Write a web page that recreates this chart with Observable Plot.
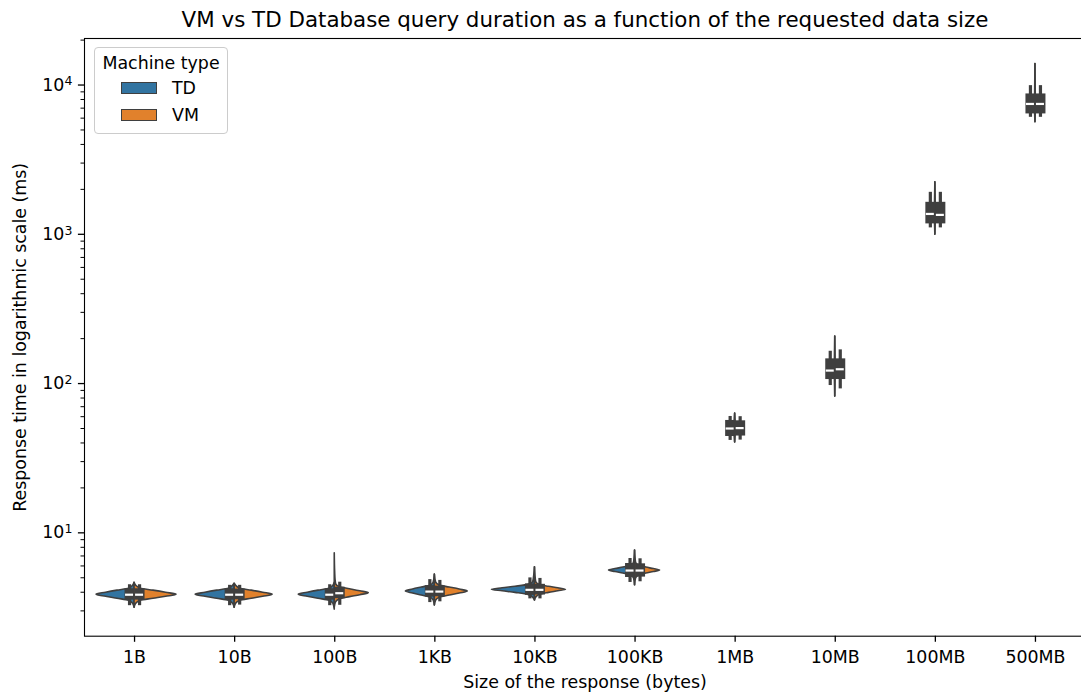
<!DOCTYPE html>
<html><head><meta charset="utf-8">
<script src="https://cdn.jsdelivr.net/npm/d3@7"></script>
<script src="https://cdn.jsdelivr.net/npm/@observablehq/plot@0.6"></script>
<style>
html,body{margin:0;padding:0;background:#fff;overflow:hidden;}
#wrap{position:relative;width:1081px;height:695px;font-family:"DejaVu Sans",sans-serif;color:#000;}
#legend{position:absolute;left:94px;top:47px;width:134px;height:87px;box-sizing:border-box;border:1px solid #cccccc;border-radius:4px;background:rgba(255,255,255,0.8);font-size:17.4px;}
#legend .lt{position:absolute;left:0;width:100%;top:3px;text-align:center;line-height:24px;}
#legend .sw{position:absolute;left:26px;width:36px;height:12px;box-sizing:border-box;border:1.5px solid #3f3f3f;}
#legend .lb{position:absolute;left:77px;line-height:20px;}
</style></head><body><div id="wrap"></div>
<script>
// ---- data ----
const categories = ["1B","10B","100B","1KB","10KB","100KB","1MB","10MB","100MB","500MB"];
const machineTypes = ["TD","VM"];
const chartTitle = "VM vs TD Database query duration as a function of the requested data size";
const xLabel = "Size of the response (bytes)";
const yLabel = "Response time in logarithmic scale (ms)";
const yMajorTicks = [10, 100, 1000, 10000];
const yMajorTickExponents = ["1","2","3","4"];
const yMinorTicks = [3,4,5,6,7,8,9,20,30,40,50,60,70,80,90,200,300,400,500,600,700,800,900,2000,3000,4000,5000,6000,7000,8000,9000,20000];

// box stats per category: [whisker low, q1, median, q3, whisker high] (ms)
const tdBox = [
  [3.25,3.54,3.85,4.22,4.49],
  [3.25,3.54,3.85,4.22,4.45],
  [3.25,3.54,3.85,4.22,4.49],
  [3.41,3.71,4.04,4.43,4.86],
  [3.61,3.81,4.15,4.55,4.99],
  [4.65,5.02,5.59,6.23,6.73],
  [41.6,44.2,50.0,56.6,60.2],
  [97,106.4,122.2,146.4,164.6],
  [1104,1174,1369,1638,1911],
  [6077,6403,7470,8717,9908]
];
const vmBox = [
  [3.25,3.54,3.85,4.22,4.49],
  [3.28,3.56,3.85,4.20,4.45],
  [3.27,3.62,3.94,4.32,4.67],
  [3.45,3.73,4.04,4.40,4.80],
  [3.61,3.83,4.15,4.52,4.95],
  [4.70,5.05,5.59,6.20,6.70],
  [41.8,44.5,50.3,56.3,60.0],
  [92.1,106.4,124.7,146.4,168.2],
  [1104,1174,1349,1638,1911],
  [6077,6403,7470,8717,9908]
];

// violin half profiles: [ms, half width in category units]
const tdViolin = [
  [[3.15,0],[3.35,.015],[3.51,.057],[3.62,.171],[3.73,.285],[3.85,.38],[3.97,.285],[4.10,.171],[4.22,.057],[4.42,.015],[4.63,0]],
  [[3.15,0],[3.35,.016],[3.51,.059],[3.62,.175],[3.73,.292],[3.85,.39],[3.97,.292],[4.10,.175],[4.22,.059],[4.42,.016],[4.56,0]],
  [[3.06,0],[3.35,.014],[3.51,.054],[3.62,.162],[3.73,.27],[3.85,.36],[3.97,.27],[4.10,.162],[4.22,.054],[4.42,.014],[4.63,0]],
  [[3.26,0],[3.52,.012],[3.68,.044],[3.80,.131],[3.92,.218],[4.04,.29],[4.17,.218],[4.30,.131],[4.43,.044],[4.64,.012],[5.25,0]],
  [[3.52,0],[3.67,.017],[3.84,.065],[3.96,.194],[4.06,.323],[4.15,.43],[4.25,.323],[4.35,.194],[4.48,.065],[4.69,.017],[5.88,0]],
  [[4.45,0],[4.94,.010],[5.18,.039],[5.34,.117],[5.46,.195],[5.59,.26],[5.72,.195],[5.85,.117],[6.04,.039],[6.32,.010],[7.61,0]],
  [[40.3,0],[44.2,.004],[50.0,.006],[56.6,.004],[63.0,0]],
  [[81.8,0],[106.4,.003],[123,.005],[146.4,.003],[206.5,0]],
  [[995,0],[1174,.003],[1360,.005],[1638,.003],[2230,0]],
  [[5626,0],[6403,.003],[7470,.005],[8717,.003],[13845,0]]
];
const vmViolin = [
  [[3.15,0],[3.35,.017],[3.51,.063],[3.62,.189],[3.73,.315],[3.85,.42],[3.97,.315],[4.10,.189],[4.22,.063],[4.42,.017],[4.63,0]],
  [[3.15,0],[3.35,.015],[3.51,.057],[3.62,.171],[3.73,.285],[3.85,.38],[3.97,.285],[4.10,.171],[4.22,.057],[4.42,.015],[4.56,0]],
  [[3.17,0],[3.43,.014],[3.59,.051],[3.71,.153],[3.82,.255],[3.94,.34],[4.06,.255],[4.19,.153],[4.32,.051],[4.53,.014],[4.85,.008],[5.5,.004],[7.3,0]],
  [[3.26,0],[3.52,.013],[3.68,.05],[3.80,.149],[3.92,.248],[4.04,.33],[4.17,.248],[4.30,.149],[4.43,.05],[4.64,.013],[5.25,0]],
  [[3.52,0],[3.67,.012],[3.84,.047],[3.96,.14],[4.06,.233],[4.15,.31],[4.25,.233],[4.35,.14],[4.48,.047],[4.69,.012],[5.88,0]],
  [[4.45,0],[4.94,.010],[5.18,.038],[5.34,.113],[5.46,.188],[5.59,.25],[5.72,.188],[5.85,.113],[6.04,.038],[6.32,.010],[7.61,0]],
  [[40.3,0],[44.5,.004],[50.3,.006],[56.3,.004],[63.0,0]],
  [[81.8,0],[106.4,.003],[125,.005],[146.4,.003],[206.5,0]],
  [[995,0],[1174,.003],[1349,.005],[1638,.003],[2230,0]],
  [[5626,0],[6403,.003],[7470,.005],[8717,.003],[13845,0]]
];

// ---- build tables ----
const gray = "#3f3f3f", typeColors = {TD:"#3274a1", VM:"#e1812c"};
const violinRows = [];
categories.forEach((c,i) => {
  tdViolin[i].forEach(([v,w]) => violinRows.push({key:"TD"+i, type:"TD", v, x1:i-w, x2:i}));
  vmViolin[i].forEach(([v,w]) => violinRows.push({key:"VM"+i, type:"VM", v, x1:i, x2:i+w}));
});
const boxRows = [];
categories.forEach((c,i) => {
  [[tdBox,-0.05,"TD"],[vmBox,0.05,"VM"]].forEach(([src,off,t]) => {
    const s = src[i];
    boxRows.push({type:t, x:i+off, lo:s[0], q1:s[1], med:s[2], q3:s[3], hi:s[4]});
  });
});

const chart = Plot.plot({
  width: 1081, height: 695,
  marginLeft: 84, marginRight: -4, marginTop: 38, marginBottom: 59.3,
  x: {type:"linear", domain:[-0.5, 9.5]},
  y: {type:"log", domain:[2.03, 20500]},
  style: {fontFamily:"DejaVu Sans", fontSize:"17.4px", background:"white", color:"black", overflow:"hidden"},
  marks: [
    Plot.areaX(violinRows.filter(d=>d.type==="TD"), {y:"v", x1:"x1", x2:"x2", z:"key", fill:typeColors.TD, stroke:gray, strokeWidth:1.6, curve:"monotone-y"}),
    Plot.areaX(violinRows.filter(d=>d.type==="VM"), {y:"v", x1:"x1", x2:"x2", z:"key", fill:typeColors.VM, stroke:gray, strokeWidth:1.6, curve:"monotone-y"}),
    Plot.ruleX(boxRows, {x:"x", y1:"lo", y2:"hi", stroke:gray, strokeWidth:3.2}),
    Plot.ruleX(boxRows, {x:"x", y1:"q1", y2:"q3", stroke:gray, strokeWidth:10}),
    Plot.ruleY(boxRows, {y:"med", x1:d=>d.x-0.04, x2:d=>d.x+0.04, stroke:"white", strokeWidth:2.2}),
    Plot.frame({stroke:"black", strokeWidth:1.1}),
    Plot.axisX({ticks: categories.map((c,i)=>i), tickFormat: i=>categories[i], tickSize:6.1, tickPadding:8.5, strokeWidth:1.3, label:null}),
    Plot.axisY({ticks: yMajorTicks, tickFormat: (d)=>"10^" + yMajorTickExponents[yMajorTicks.indexOf(d)], tickSize:6.1, tickPadding:6, strokeWidth:1.3, label:null}),
    Plot.axisY({ticks: yMinorTicks, tickFormat: ()=>"", tickSize:3.5, strokeWidth:1, label:null}),
    Plot.text([chartTitle], {text:d=>d, frameAnchor:"top", dy:-18, fontSize:21.4, lineAnchor:"middle"}),
    Plot.text([xLabel], {text:d=>d, frameAnchor:"bottom", dy:46.3, fontSize:17.4, lineAnchor:"middle"}),
    Plot.text([yLabel], {text:d=>d, frameAnchor:"left", dx:-64, rotate:-90, fontSize:17.4, lineAnchor:"middle", textAnchor:"middle"})
  ]
});
// render "10^k" tick labels as 10 with superscript exponent
d3.select(chart).selectAll("text").each(function() {
  const t = this.textContent;
  const m = /^10\^(\d)$/.exec(t);
  if (m) {
    const sel = d3.select(this);
    sel.text("10");
    sel.append("tspan").attr("dy", "-0.42em").attr("font-size", "0.72em").text(m[1]);
  }
});
const wrap = document.getElementById("wrap");
wrap.appendChild(chart);

// legend
const lg = document.createElement("div");
lg.id = "legend";
let html = '<div class="lt">Machine type</div>';
machineTypes.forEach((t,k) => {
  html += `<div class="sw" style="top:${34 + k*27}px;background:${typeColors[t]}"></div>`;
  html += `<div class="lb" style="top:${30 + k*27}px">${t}</div>`;
});
lg.innerHTML = html;
wrap.appendChild(lg);
</script></body></html>
